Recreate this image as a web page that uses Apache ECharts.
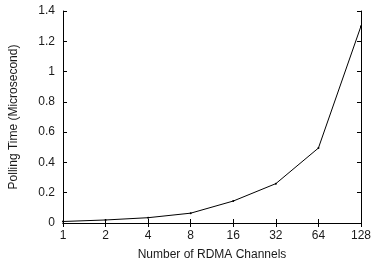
<!DOCTYPE html>
<html>
<head>
<meta charset="utf-8">
<script src="https://cdn.jsdelivr.net/npm/echarts@6/dist/echarts.min.js"></script>
<style>
html, body { margin: 0; padding: 0; background: #fff; }
#chart { width: 374px; height: 266px; }
</style>
</head>
<body>
<div id="chart"></div>
<script>
var channels = ['1', '2', '4', '8', '16', '32', '64', '128'];
var pollingTime = [0.01, 0.02, 0.035, 0.065, 0.145, 0.26, 0.495, 1.3];

var myChart = echarts.init(document.getElementById('chart'));
var font = 'Liberation Sans, Arial, sans-serif';
var txt = '#1a1a1a';
var tickStyle = {show: true, inside: true, length: 4, lineStyle: {color: '#000', width: 1}};

var option = {
    animation: false,
    grid: {left: 60, right: 10, top: 11, bottom: 40},
    xAxis: [
        {
            type: 'category',
            data: channels,
            boundaryGap: false,
            name: 'Number of RDMA Channels',
            nameLocation: 'middle',
            nameGap: 26,
            nameTextStyle: {color: txt, fontSize: 12, fontFamily: font},
            axisLine: {lineStyle: {color: '#000', width: 1}},
            axisTick: {show: true, inside: true, length: 4, alignWithLabel: true, lineStyle: {color: '#000'}},
            axisLabel: {color: txt, fontSize: 12, fontFamily: font, margin: 7},
            splitLine: {show: false}
        },
        {
            type: 'category',
            data: channels,
            boundaryGap: false,
            position: 'top',
            axisLine: {lineStyle: {color: '#000', width: 1}},
            axisTick: {show: true, inside: true, length: 4, lineStyle: {color: '#000'}},
            axisLabel: {show: false}
        }
    ],
    yAxis: [
        {
            type: 'value',
            min: 0,
            max: 1.4,
            interval: 0.2,
            name: 'Polling Time (Microsecond)',
            nameLocation: 'middle',
            nameGap: 43,
            nameTextStyle: {color: txt, fontSize: 12, fontFamily: font},
            axisLine: {show: true, lineStyle: {color: '#000', width: 1}},
            axisTick: tickStyle,
            axisLabel: {color: txt, fontSize: 12, fontFamily: font, margin: 8},
            splitLine: {show: false}
        },
        {
            type: 'value',
            min: 0,
            max: 1.4,
            interval: 0.2,
            position: 'right',
            axisLine: {show: true, lineStyle: {color: '#000', width: 1}},
            axisTick: tickStyle,
            axisLabel: {show: false},
            splitLine: {show: false}
        }
    ],
    series: [
        {
            type: 'line',
            data: pollingTime,
            symbol: 'circle',
            symbolSize: 2,
            itemStyle: {color: '#000'},
            lineStyle: {color: '#000', width: 1}
        }
    ]
};
myChart.setOption(option);
</script>
</body>
</html>
